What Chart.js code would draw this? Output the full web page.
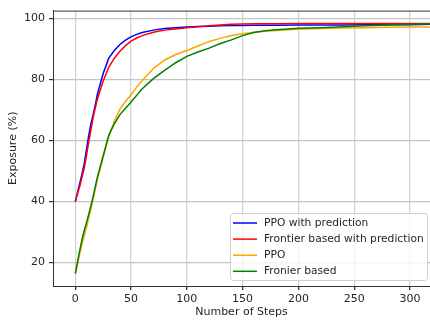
<!DOCTYPE html>
<html>
<head>
<meta charset="utf-8">
<script src="https://cdn.jsdelivr.net/npm/chart.js@4.4.1/dist/chart.umd.min.js"></script>
<style>
  html, body { margin: 0; padding: 0; background: #fff; }
  #wrap { width: 430px; height: 320px; position: relative; }
</style>
</head>
<body>
<div id="wrap"><canvas id="exposureChart"></canvas></div>
<script>
const steps = [0, 2, 4, 6, 8, 10, 12, 14, 16, 18, 20, 25, 30, 35, 40, 45, 50, 55, 60, 70, 80, 90, 100, 110, 120, 130, 140, 150, 160, 170, 180, 200, 220, 240, 260, 280, 300, 320];

const ppoPred = [40, 43, 46, 49, 52.5, 57, 61.5, 65.5, 68.5, 71.8, 75.5, 82, 87, 89.5, 91.5, 92.9, 94, 94.8, 95.4, 96.2, 96.7, 97.0, 97.2, 97.4, 97.5, 97.6, 97.7, 97.7, 97.8, 97.8, 97.8, 97.9, 97.9, 97.9, 98.0, 98.0, 98.0, 98.1];
const frontierPred = [40, 42.5, 45, 48, 51, 55, 59.5, 63.5, 67.5, 70.8, 73.8, 79.5, 84, 87, 89.3, 91.1, 92.6, 93.6, 94.4, 95.5, 96.2, 96.6, 97, 97.3, 97.6, 97.9, 98.1, 98.2, 98.3, 98.3, 98.3, 98.4, 98.4, 98.4, 98.4, 98.4, 98.4, 98.4];
const ppo = [16.4, 19.5, 23, 26, 28.8, 31.5, 34.5, 37.5, 40.8, 44.2, 47.5, 54.5, 61.5, 66.3, 70.3, 72.8, 75, 77.5, 79.7, 83.6, 86.4, 88.2, 89.5, 91, 92.5, 93.5, 94.4, 95, 95.5, 95.8, 96.1, 96.5, 96.7, 96.9, 97, 97.1, 97.2, 97.2];
const frontier = [16.4, 20.2, 24, 27.5, 30.5, 33, 35.8, 38.6, 41.7, 45, 48.3, 55, 61.7, 65.5, 68.5, 70.6, 72.6, 74.8, 77, 80.3, 83, 85.5, 87.6, 89, 90.3, 91.8, 93, 94.4, 95.4, 96, 96.3, 96.8, 97, 97.3, 97.6, 97.9, 98.1, 98.3];

const xTicks = [0, 50, 100, 150, 200, 250, 300];
const yTicks = [20, 40, 60, 80, 100];

const seriesNames = ['PPO with prediction', 'Frontier based with prediction', 'PPO', 'Fronier based'];
const seriesColors = ['#0000ff', '#ff0000', '#ffa500', '#008000'];
const seriesValues = [ppoPred, frontierPred, ppo, frontier];

const font = "'DejaVu Sans', sans-serif";
const textColor = '#262626';

const datasets = seriesValues.map((vals, i) => ({
    label: seriesNames[i],
    data: steps.map((s, j) => ({ x: s, y: vals[j] })),
    borderColor: seriesColors[i],
    backgroundColor: seriesColors[i],
    borderWidth: 1.5,
    pointRadius: 0,
    tension: 0,
    fill: false,
    order: 4 - i
}));

// box round the plot plus the legend in the lower right
const framePlugin = {
    id: 'frame',
    afterDraw(chart) {
        const ctx = chart.ctx;
        const a = chart.chartArea;
        ctx.save();
        ctx.strokeStyle = '#333';
        ctx.lineWidth = 1;
        ctx.beginPath();
        ctx.moveTo(a.left, a.top + 0.5);
        ctx.lineTo(a.right, a.top + 0.5);
        ctx.stroke();

        const bx = 230, by = 213, bw = 197, bh = 67;
        ctx.fillStyle = 'rgba(255,255,255,0.8)';
        ctx.strokeStyle = '#d0d0d0';
        ctx.beginPath();
        ctx.roundRect(bx + 0.5, by + 0.5, bw, bh, 3);
        ctx.fill();
        ctx.stroke();

        ctx.font = '10.7px ' + font;
        ctx.textBaseline = 'middle';
        ctx.textAlign = 'left';
        seriesNames.forEach((name, i) => {
            const y = by + 10 + i * 16.1;
            ctx.strokeStyle = seriesColors[i];
            ctx.lineWidth = 1.5;
            ctx.beginPath();
            ctx.moveTo(bx + 3, y);
            ctx.lineTo(bx + 27, y);
            ctx.stroke();
            ctx.fillStyle = textColor;
            ctx.fillText(name, bx + 34, y);
        });
        ctx.restore();
    }
};

new Chart(document.getElementById('exposureChart'), {
    type: 'line',
    data: { datasets: datasets },
    plugins: [framePlugin],
    options: {
        responsive: true,
        maintainAspectRatio: false,
        animation: false,
        layout: { padding: { top: 4, right: 0, left: 0, bottom: 0 } },
        plugins: {
            legend: { display: false },
            tooltip: { enabled: false }
        },
        scales: {
            x: {
                type: 'linear',
                min: -20,
                max: 318,
                afterBuildTicks: scale => { scale.ticks = xTicks.map(v => ({ value: v })); },
                afterFit: scale => { scale.height = 34; },
                grid: { color: '#d3d3d3', lineWidth: 1.3, tickColor: '#333', tickLength: 4 },
                border: { display: true, color: '#333', width: 1 },
                ticks: { color: textColor, font: { family: font, size: 11 }, padding: 3, maxRotation: 0 },
                title: { display: true, text: 'Number of Steps', color: textColor, font: { family: font, size: 11 }, padding: { top: 0, bottom: 1 } }
            },
            y: {
                min: 12.3,
                max: 102.6,
                afterBuildTicks: scale => { scale.ticks = yTicks.map(v => ({ value: v })); },
                afterFit: scale => { scale.width = 53; },
                grid: { color: '#c4c4c4', lineWidth: 1.2, tickColor: '#333', tickLength: 4 },
                border: { display: true, color: '#333', width: 1 },
                ticks: { color: textColor, font: { family: font, size: 11 }, padding: 4 },
                title: { display: true, text: 'Exposure (%)', color: textColor, font: { family: font, size: 11 }, padding: { top: 7, bottom: 0 } }
            }
        }
    }
});
</script>
</body>
</html>
